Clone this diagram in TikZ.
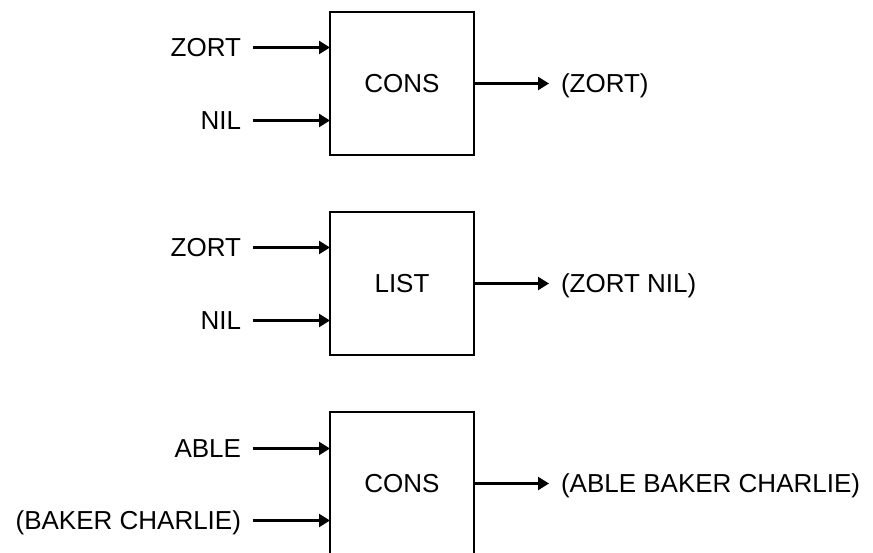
\documentclass[tikz,border=0pt]{standalone}
\usepackage{fontspec}
\setmainfont{Liberation Sans}
\usetikzlibrary{positioning, arrows.meta}

\begin{document}
\begin{tikzpicture}[
  x=1pt, y=-1pt,
  >={Triangle[length=11pt, width=13pt]},
  font=\fontsize{26}{31}\selectfont,
  fn/.style={draw, line width=2.4pt, minimum width=144pt, minimum height=143pt, inner sep=0pt, outer sep=0pt},
  arg/.style={inner sep=0pt, outer xsep=12pt, text height=18.6pt, text depth=0pt},
  wire/.style={->, line width=2.4pt}
]
  \useasboundingbox (0,0) rectangle (873,553);

  % CONS of ZORT and NIL
  \node[fn] (cons1) at (402,83.5) {CONS};
  \node[arg, anchor=east] (zort1) at (253,47.5) {ZORT};
  \node[arg, anchor=east] (nil1) at (253,120.5) {NIL};
  \node[arg, anchor=west] (res1) at (549,83.5) {(ZORT)};
  \draw[wire] (zort1) -- (zort1 -| cons1.west);
  \draw[wire] (nil1) -- (nil1 -| cons1.west);
  \draw[wire] (cons1) -- (res1);

  % LIST of ZORT and NIL
  \node[fn] (list2) at (402,283.5) {LIST};
  \node[arg, anchor=east] (zort2) at (253,247.5) {ZORT};
  \node[arg, anchor=east] (nil2) at (253,320.5) {NIL};
  \node[arg, anchor=west] (res2) at (549,283.5) {(ZORT NIL)};
  \draw[wire] (zort2) -- (zort2 -| list2.west);
  \draw[wire] (nil2) -- (nil2 -| list2.west);
  \draw[wire] (list2) -- (res2);

  % CONS of ABLE and (BAKER CHARLIE)
  \node[fn] (cons3) at (402,483.5) {CONS};
  \node[arg, anchor=east] (able3) at (253,448.5) {ABLE};
  \node[arg, anchor=east] (bc3) at (253,520.5) {(BAKER CHARLIE)};
  \node[arg, anchor=west] (res3) at (549,483.5) {(ABLE BAKER CHARLIE)};
  \draw[wire] (able3) -- (able3 -| cons3.west);
  \draw[wire] (bc3) -- (bc3 -| cons3.west);
  \draw[wire] (cons3) -- (res3);
\end{tikzpicture}
\end{document}
